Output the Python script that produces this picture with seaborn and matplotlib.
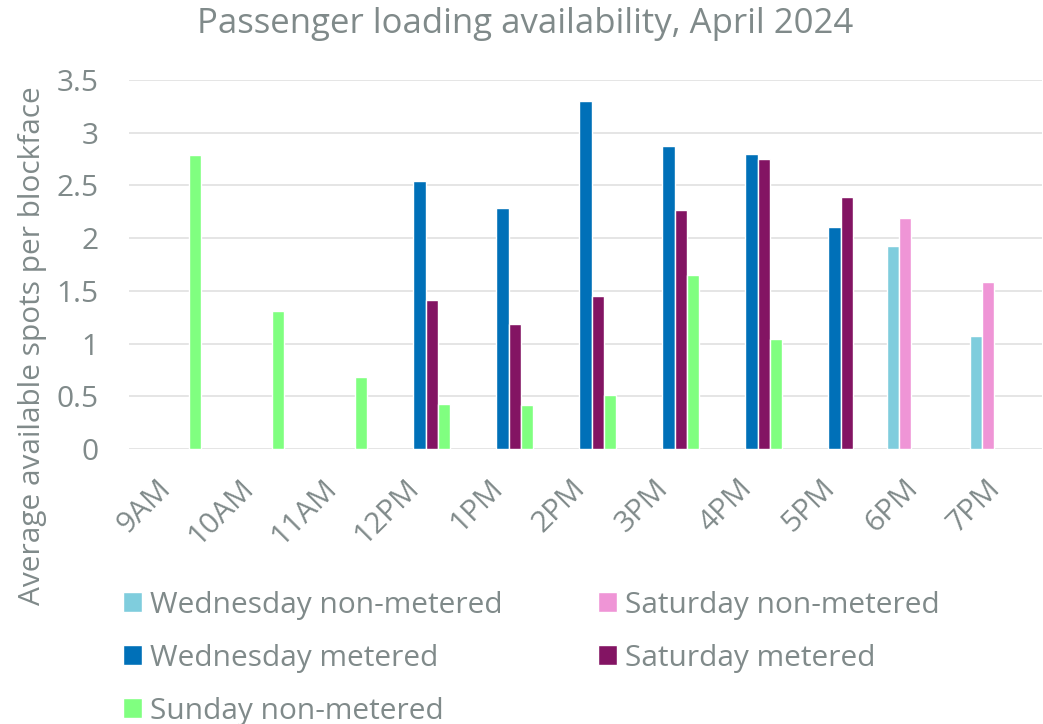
import numpy as np
import pandas as pd
import matplotlib
matplotlib.use('Agg')
import matplotlib.pyplot as plt
import matplotlib.transforms as mtransforms
from matplotlib.patches import Patch
import seaborn as sns

nan = np.nan

# Data
hours = ['9AM', '10AM', '11AM', '12PM', '1PM', '2PM', '3PM', '4PM', '5PM', '6PM', '7PM']
wed_nonmetered = [nan, nan, nan, nan, nan, nan, nan, nan, nan, 1.93, 1.07]
sat_nonmetered = [nan, nan, nan, nan, nan, nan, nan, nan, nan, 2.19, 1.58]
wed_metered = [nan, nan, nan, 2.54, 2.29, 3.30, 2.87, 2.80, 2.11, nan, nan]
sat_metered = [nan, nan, nan, 1.41, 1.19, 1.45, 2.27, 2.75, 2.39, nan, nan]
sun_nonmetered = [2.79, 1.31, 0.68, 0.43, 0.42, 0.51, 1.65, 1.04, nan, nan, nan]

series_names = ['Wednesday non-metered', 'Saturday non-metered', 'Wednesday metered',
                'Saturday metered', 'Sunday non-metered']
series_values = [wed_nonmetered, sat_nonmetered, wed_metered, sat_metered, sun_nonmetered]
colors = ['#7fcddd', '#ef95d6', '#0070b8', '#831463', '#80ff80']

# Long-form table for seaborn
rows = []
for name, vals in zip(series_names, series_values):
    for h, v in zip(hours, vals):
        if not np.isnan(v):
            rows.append({'hour': h, 'series': name, 'value': v})
df = pd.DataFrame(rows)

sns.set_style('white')
text_gray = '#808a8a'
plt.rcParams['font.family'] = ['Open Sans', 'DejaVu Sans']
plt.rcParams['text.color'] = text_gray
plt.rcParams['xtick.color'] = text_gray
plt.rcParams['ytick.color'] = text_gray

fig = plt.figure(figsize=(10.43, 7.24), dpi=100)
ax = fig.add_axes([0.1237, 0.3798, 0.8754, 0.5097])

sns.barplot(data=df, x='hour', y='value', hue='series', order=hours,
            hue_order=series_names, palette=colors, saturation=1, width=0.74,
            errorbar=None, legend=False, ax=ax, zorder=3)

ax.set_xlim(-0.5, len(hours) - 0.5)
ax.set_ylim(0, 3.5)
yticks = [0, 0.5, 1, 1.5, 2, 2.5, 3, 3.5]
ax.set_yticks(yticks)
ax.set_yticklabels(['0', '0.5', '1', '1.5', '2', '2.5', '3', '3.5'])
ax.yaxis.grid(True, color='#e3e3e3', linewidth=1.3, zorder=0)
ax.set_axisbelow(True)
for s in ax.spines.values():
    s.set_visible(False)
ax.tick_params(axis='y', length=0, pad=22, labelsize=21.5)
ax.tick_params(axis='x', length=0, pad=18, labelsize=21.5)
ax.set_xlabel('')
ax.set_ylabel('')
offset = mtransforms.ScaledTranslation(6 / 100, 0, fig.dpi_scale_trans)
for lab in ax.get_xticklabels():
    lab.set_rotation(45)
    lab.set_ha('right')
    lab.set_transform(lab.get_transform() + offset)

fig.text(0.5035, 0.967, 'Passenger loading availability, April 2024', ha='center',
         va='center', fontsize=25, color=text_gray)
fig.text(33 / 1043, 1 - 346 / 724, 'Average available spots per blockface', rotation=90,
         ha='center', va='center', fontsize=21.5, color=text_gray)

# legend filled column-wise: left column then right column
handles = [Patch(facecolor=c) for c in colors]
order = [0, 2, 4, 1, 3]
fig.legend([handles[i] for i in order], [series_names[i] for i in order], ncol=2,
           loc='upper left', bbox_to_anchor=(0.118, 0.184), frameon=False,
           fontsize=21.5, handlelength=0.62, handleheight=0.65, handletextpad=0.28,
           labelspacing=0.8, columnspacing=3.2, borderpad=0, borderaxespad=0)

fig.savefig('out.png', dpi=100)
